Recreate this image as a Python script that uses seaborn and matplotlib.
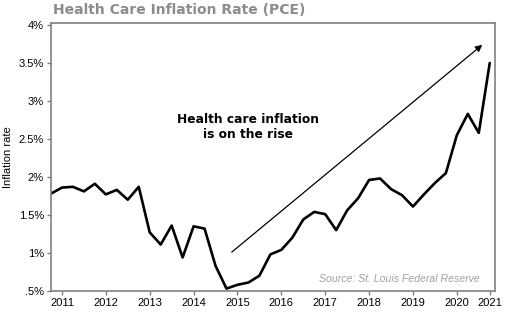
import numpy as np
import pandas as pd
import seaborn as sns
import matplotlib
matplotlib.use("Agg")
import matplotlib.pyplot as plt

# Quarterly health care PCE inflation (%), 2010Q4 .. 2020Q4
quarters = pd.period_range("2010Q4", "2020Q4", freq="Q")
inflation = [1.78, 1.86, 1.87, 1.81, 1.91, 1.77, 1.83, 1.70, 1.87,
             1.27, 1.11, 1.36, 0.94, 1.35, 1.32, 0.83, 0.53,
             0.58, 0.61, 0.70, 0.98, 1.04, 1.20, 1.44, 1.54,
             1.51, 1.30, 1.56, 1.72, 1.96, 1.98, 1.84, 1.76,
             1.61, 1.77, 1.92, 2.05, 2.55, 2.83, 2.58, 3.50]
year_ticks = [2011, 2012, 2013, 2014, 2015, 2016, 2017, 2018, 2019, 2020]
year_labels = [str(y) for y in year_ticks] + ["2021"]
y_ticks = [0.5, 1.0, 1.5, 2.0, 2.5, 3.0, 3.5, 4.0]
y_labels = [".5%", "1%", "1.5%", "2%", "2.5%", "3%", "3.5%", "4%"]

xdec = np.array([q.year + (q.quarter - 1) / 4 for q in quarters])
df = pd.DataFrame({"t": xdec, "v": inflation})

sns.set_style("white")
plt.rcParams["font.family"] = ["Liberation Sans", "DejaVu Sans"]
plt.rcParams["text.color"] = "black"
plt.rcParams["axes.labelcolor"] = "black"

fig = plt.figure(figsize=(5.10, 3.25), dpi=100)
ax = fig.add_axes([0.100, 0.105, 0.8706, 0.825])
sns.lineplot(data=df, x="t", y="v", ax=ax, color="black", linewidth=1.9)

ax.set_xlim(xdec[0], 2020.87)
ax.set_ylim(0.5, 4.03)
ax.set_xticks(year_ticks + [xdec[-1]])
ax.set_xticklabels(year_labels, fontsize=8)
ax.set_yticks(y_ticks)
ax.set_yticklabels(y_labels, fontsize=8)
ax.tick_params(axis="both", direction="out", length=3, width=1,
               color="#808080", pad=2, labelcolor="black")
ax.tick_params(left=True, bottom=True)
ax.set_xlabel("")
ax.set_ylabel("Inflation rate", fontsize=8, labelpad=4, color="black")
for s in ax.spines.values():
    s.set_visible(True)
    s.set_color("#808080")
    s.set_linewidth(1.2)

fig.text(0.104, 0.968, "Health Care Inflation Rate (PCE)", fontsize=10,
         fontweight="bold", color="#8c8c8c", family="DejaVu Sans",
         ha="left", va="center")

ax.text(2015.24, 2.66, "Health care inflation\nis on the rise", fontsize=8.8,
        fontweight="bold", family="DejaVu Sans", ha="center", va="center",
        linespacing=1.25, color="black")

ax.annotate("", xy=(2020.58, 3.74), xytext=(2014.87, 1.01),
            arrowprops=dict(arrowstyle="-|>", color="black", lw=0.9,
                            mutation_scale=10, shrinkA=0, shrinkB=0))

ax.text(0.965, 0.025, "Source: St. Louis Federal Reserve", transform=ax.transAxes,
        fontsize=7.6, style="italic", color="#a0a0a0", ha="right", va="bottom")

fig.savefig("out.png", dpi=100, facecolor="white")
